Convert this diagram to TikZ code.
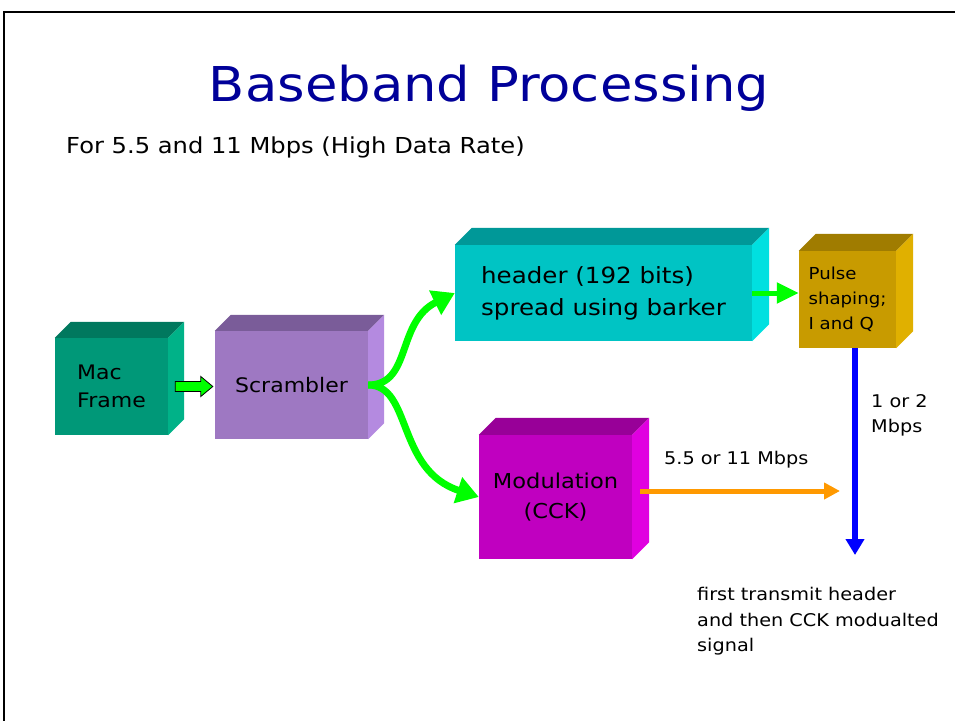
\documentclass[tikz,border=0pt]{standalone}
\usepackage{fontspec}
\setmainfont[FakeStretch=1.1]{DejaVu Sans}
\usetikzlibrary{calc,arrows.meta}
\definecolor{macF}{RGB}{0,152,120}
\definecolor{macT}{RGB}{0,120,94}
\definecolor{macS}{RGB}{0,178,136}
\definecolor{scrF}{RGB}{158,120,194}
\definecolor{scrT}{RGB}{122,92,153}
\definecolor{scrS}{RGB}{180,138,224}
\definecolor{hdrF}{RGB}{0,196,196}
\definecolor{hdrT}{RGB}{0,152,152}
\definecolor{hdrS}{RGB}{0,224,224}
\definecolor{plsF}{RGB}{200,155,0}
\definecolor{plsT}{RGB}{160,124,0}
\definecolor{plsS}{RGB}{224,176,0}
\definecolor{modF}{RGB}{192,0,192}
\definecolor{modT}{RGB}{152,0,152}
\definecolor{modS}{RGB}{224,0,224}
\definecolor{titleblue}{RGB}{0,0,153}
\definecolor{arrgreen}{RGB}{0,255,0}
\definecolor{arrorange}{RGB}{255,153,0}
\newcommand{\cubefaces}[4]{% name, depth, top colour, side colour
  \fill[#3] (#1.north west) -- ++(#2,-#2) -- ($(#1.north east)+(#2,-#2)$) -- (#1.north east) -- cycle;
  \fill[#4] (#1.north east) -- ++(#2,-#2) -- ($(#1.south east)+(#2,-#2)$) -- (#1.south east) -- cycle;
}
\begin{document}
\begin{tikzpicture}[x=1pt,y=-1pt,
  front/.style={rectangle,inner sep=0pt,align=left,font=\fontsize{20}{28}\selectfont},
  greenarrow/.style={draw=arrgreen,line width=7pt,-{Triangle[length=22pt,width=26pt]}},
  lbl/.style={font=\fontsize{17.5}{25.5}\selectfont,align=left,anchor=north west,inner sep=0pt}]
\useasboundingbox (0,0) rectangle (955,720);
\draw[line width=2pt] (4,722) -- (4,12) -- (958,12);
% title
\node[text=titleblue,font=\fontsize{48}{52}\selectfont] (title) at (489,88) {Baseband Processing};
\node[anchor=west,font=\fontsize{22}{26}\selectfont,inner sep=0pt] (sub) at (66,147) {For 5.5 and 11 Mbps (High Data Rate)};
% boxes
\node[front,fill=macF,minimum width=113pt,minimum height=97pt] (mac) at (111.5,386.5) {Mac\\Frame};
\cubefaces{mac}{16}{macT}{macS}
\node[front,fill=scrF,minimum width=153pt,minimum height=108pt] (scr) at (291.5,385) {Scrambler};
\cubefaces{scr}{16}{scrT}{scrS}
\node[front,fill=hdrF,minimum width=297pt,minimum height=96pt,font=\fontsize{22.3}{32}\selectfont] (hdr) at (603.5,293) {header (192 bits)\\spread using barker};
\cubefaces{hdr}{17}{hdrT}{hdrS}
\node[front,fill=plsF,minimum width=97pt,minimum height=97pt,font=\fontsize{16.5}{25}\selectfont] (pls) at (847.5,299.5) {Pulse\\shaping;\\I and Q};
\cubefaces{pls}{17}{plsT}{plsS}
\node[front,fill=modF,minimum width=153pt,minimum height=124pt,align=center,font=\fontsize{20.5}{30}\selectfont] (mod) at (555.5,497) {Modulation\\(CCK)};
\cubefaces{mod}{17}{modT}{modS}
% block arrow mac -> scrambler
\coordinate (ba) at ($(mac.east)+(7,0)$);
\coordinate (bb) at ($(scr.west |- mac.east)+(-2,0)$);
\draw[fill=arrgreen,line width=0.8pt] ($(ba)+(0,-5)$) -- ($(bb)+(-12,-5)$) -- ($(bb)+(-12,-10)$) -- (bb) -- ($(bb)+(-12,10)$) -- ($(bb)+(-12,5)$) -- ($(ba)+(0,5)$) -- cycle;
% curved green arrows
\draw[greenarrow] (scr.east) .. controls (412,385) and (396,322) .. (hdr.west);
\draw[greenarrow] (scr.east) .. controls (412,385) and (396,470) .. (mod.west);
% header -> pulse
\draw[draw=arrgreen,line width=5pt,-{Triangle[length=22pt,width=20pt]}] (hdr.east) -- (pls.west |- hdr.east);
% orange
\coordinate (oend) at (840,491);
\draw[draw=arrorange,line width=5pt,-{Triangle[length=16pt,width=16pt]}] ($(mod.east)+(8,-6)$) -- (oend);
% blue
\coordinate (bend) at (855,555);
\draw[draw=blue,line width=6pt,-{Triangle[length=16pt,width=18pt]}] ($(pls.south)+(7.5,0)$) -- (bend);
% labels
\node[lbl] (l12) at (871,394) {1 or 2\\Mbps};
\node[lbl] (l55) at (664,451) {5.5 or 11 Mbps};
\node[lbl] (lft) at (697,587) {first transmit header\\and then CCK modualted\\signal};
\end{tikzpicture}
\end{document}
